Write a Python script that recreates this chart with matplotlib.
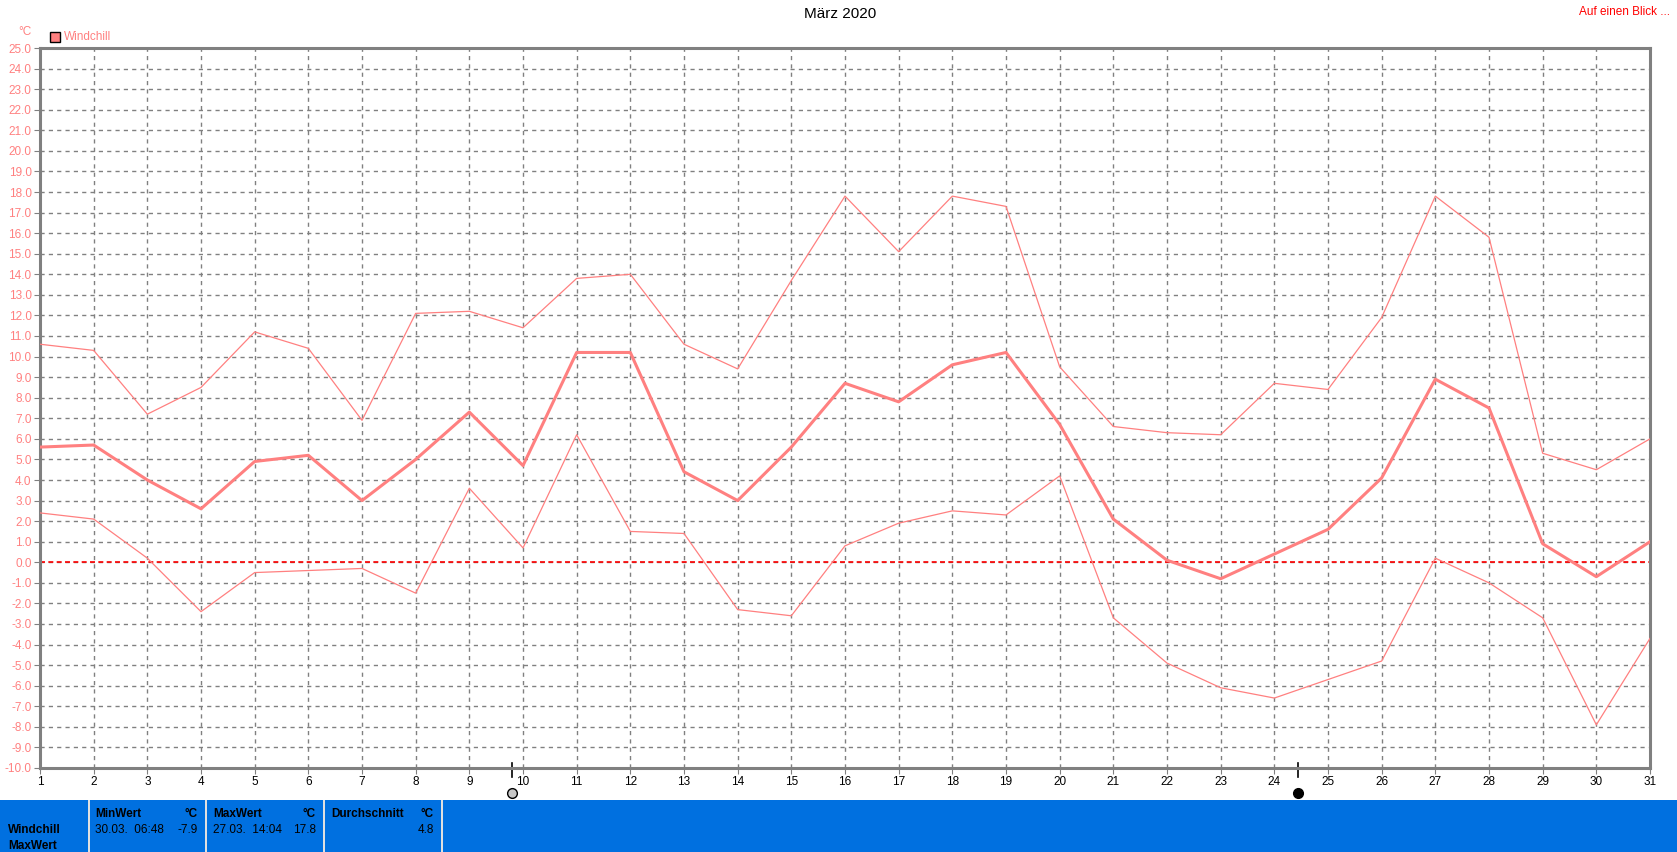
import matplotlib
matplotlib.use("Agg")
from matplotlib import pyplot as plt
import numpy as np

plt.rcParams['font.family'] = ['Liberation Sans', 'DejaVu Sans']

# Windchill März 2020 (°C)
tage = list(range(1, 32))
mittel = [5.6, 5.7, 4.0, 2.6, 4.9, 5.2, 3.0, 5.0, 7.3, 4.7, 10.2, 10.2, 4.4, 3.0, 5.6,
          8.7, 7.8, 9.6, 10.2, 6.7, 2.1, 0.1, -0.8, 0.4, 1.6, 4.1, 8.9, 7.5, 0.9, -0.7, 1.0]
maxwert = [10.6, 10.3, 7.2, 8.5, 11.2, 10.4, 6.9, 12.1, 12.2, 11.4, 13.8, 14.0, 10.6, 9.4, 13.7,
           17.8, 15.1, 17.8, 17.3, 9.5, 6.6, 6.3, 6.2, 8.7, 8.4, 11.9, 17.8, 15.8, 5.3, 4.5, 6.0]
minwert = [2.4, 2.1, 0.2, -2.4, -0.5, -0.4, -0.3, -1.5, 3.6, 0.7, 6.2, 1.5, 1.4, -2.3, -2.6,
           0.8, 1.9, 2.5, 2.3, 4.2, -2.7, -4.9, -6.1, -6.6, -5.7, -4.8, 0.2, -1.0, -2.7, -7.9, -3.7]
y_ticks = np.arange(-10, 26, 1)

# Mondphasen (Tag mit Uhrzeit)
vollmond = 9.79
neumond = 24.44

tabelle = [
    ("MinWert", "30.03.  06:48", "-7.9"),
    ("MaxWert", "27.03.  14:04", "17.8"),
    ("Durchschnitt", "", "4.8"),
]

farbe = "#FF8080"
W, H = 1677, 852
fig = plt.figure(figsize=(W / 100, H / 100), dpi=100)

x0, x1, ytop, ybot = 40, 1650, 48, 768
ax = fig.add_axes([x0 / W, (H - ybot) / H, (x1 - x0) / W, (ybot - ytop) / H])
ax.set_xlim(1, 31)
ax.set_ylim(-10, 25)
ax.set_xticks(tage)
ax.set_yticks(y_ticks)
ax.set_yticklabels(["%.1f" % v for v in y_ticks], color=farbe)
ax.tick_params(axis='both', labelsize=8.5, length=4, color="#808080", pad=2)
ax.grid(True, linestyle=(0, (3, 3)), color="#808080", linewidth=1)
for s in ax.spines.values():
    s.set_color("#808080")
    s.set_linewidth(2.2)

ax.axhline(0, color="#FF0000", linestyle=(0, (3, 2)), linewidth=1.2, zorder=2)
ax.plot(tage, maxwert, color=farbe, linewidth=0.9, zorder=3)
ax.plot(tage, minwert, color=farbe, linewidth=0.9, zorder=3)
ax.plot(tage, mittel, color=farbe, linewidth=2.2, zorder=4)

# Mondsymbole unter der Achse
tr = ax.get_xaxis_transform()
for tag, fc in [(vollmond, "#C8C8C8"), (neumond, "black")]:
    ax.plot([tag, tag], [0.007, -0.012], color="black", linewidth=1.2, transform=tr, clip_on=False)
    ax.plot([tag], [-0.035], marker='o', markersize=7, markerfacecolor=fc,
            markeredgecolor="black", markeredgewidth=1, transform=tr, clip_on=False)

# Texte oben
fig.text(840 / W, 1 - 14 / H, "März 2020", ha="center", va="center", fontsize=11)
fig.text(1670 / W, 1 - 12 / H, "Auf einen Blick ...", ha="right", va="center", fontsize=8.5, color="#FF0000")
fig.text(25 / W, 1 - 32 / H, "°C", ha="center", va="center", fontsize=8.5, color=farbe)
fig.patches.append(plt.Rectangle((50 / W, 1 - 42 / H), 10 / W, 10 / H, transform=fig.transFigure,
                                 facecolor=farbe, edgecolor="black", linewidth=1))
fig.text(64 / W, 1 - 37 / H, "Windchill", ha="left", va="center", fontsize=8.5, color=farbe)

# Tabelle unten
pan = fig.add_axes([0, 0, 1, 52 / H])
pan.set_xlim(0, W)
pan.set_ylim(852, 800)
pan.axis("off")
pan.add_patch(plt.Rectangle((0, 800), W, 52, facecolor="#0070E0", edgecolor="none"))
for xs in [88, 205, 323, 441]:
    pan.add_patch(plt.Rectangle((xs, 800), 2, 52, facecolor="#E0E0E0", edgecolor="none"))
pan.text(8, 830, "Windchill", fontsize=8.5, fontweight="bold", va="center")
pan.text(8, 846, "MaxWert", fontsize=8.5, fontweight="bold", va="center")
for i, (kopf, zeit, wert) in enumerate(tabelle):
    xl = 95 + i * 118
    xr = 198 + i * 118
    pan.text(xl, 814, kopf, fontsize=8.5, fontweight="bold", va="center")
    pan.text(xr, 814, "°C", fontsize=8.5, fontweight="bold", va="center", ha="right")
    pan.text(xl, 830, zeit, fontsize=8.5, va="center")
    pan.text(xr, 830, wert, fontsize=8.5, va="center", ha="right")

fig.savefig("out.png", dpi=100)
